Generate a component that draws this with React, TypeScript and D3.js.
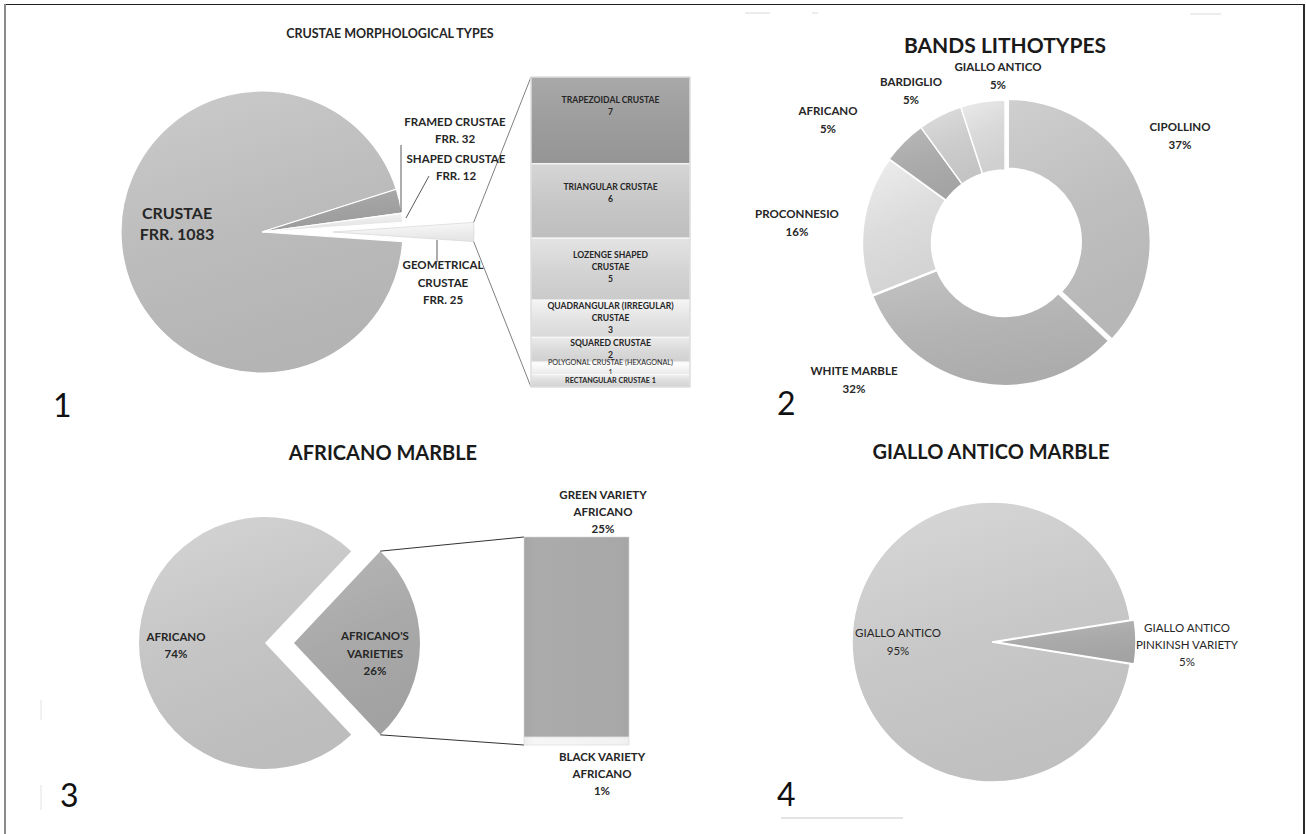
import * as d3 from 'd3';

// ---- data ----
const crustaeTypes = ['CRUSTAE', 'FRAMED CRUSTAE', 'SHAPED CRUSTAE', 'GEOMETRICAL CRUSTAE'];
const crustaeCounts = [1083, 32, 12, 25];

const geometricalTypes = [
  'TRAPEZOIDAL CRUSTAE',
  'TRIANGULAR CRUSTAE',
  'LOZENGE SHAPED\nCRUSTAE',
  'QUADRANGULAR (IRREGULAR)\nCRUSTAE',
  'SQUARED CRUSTAE',
  'POLYGONAL CRUSTAE (HEXAGONAL)',
  'RECTANGULAR CRUSTAE',
];
const geometricalCounts = [7, 6, 5, 3, 2, 1, 1];

const lithotypes = ['CIPOLLINO', 'WHITE MARBLE', 'PROCONNESIO', 'AFRICANO', 'BARDIGLIO', 'GIALLO ANTICO'];
const lithotypeShares = [37, 32, 16, 5, 5, 5];

const africanoParts = ['AFRICANO', "AFRICANO'S\nVARIETIES"];
const africanoShares = [74, 26];
const africanoVarieties = ['GREEN VARIETY\nAFRICANO', 'BLACK VARIETY\nAFRICANO'];
const africanoVarietyShares = [25, 1];

const gialloParts = ['GIALLO ANTICO', 'GIALLO ANTICO\nPINKINSH VARIETY'];
const gialloShares = [95, 5];

// ---- styles ----
const FONT = 'Lato, "Open Sans", "DejaVu Sans", sans-serif';
const INK = '#262626';
const crustaeColors = ['#bcbcbc', '#a2a2a2', '#ebebeb', '#f0f0f0'];
const geometricalColors = ['#9c9c9c', '#c6c6c6', '#d3d3d3', '#e2e2e2', '#d9d9d9', '#f3f3f3', '#dcdcdc'];
const lithotypeColors = ['#bfbfbf', '#b4b4b4', '#dcdcdc', '#ababab', '#cdcdcd', '#d9d9d9'];
const africanoColors = ['#c5c5c5', '#a9a9a9'];
const varietyColors = ['#a8a8a8', '#f2f2f2'];
const gialloColors = ['#c8c8c8', '#aaaaaa'];

type Arc = d3.PieArcDatum<number>;

// pie whose last slice points to the right (pie-of-bar / pie with one pulled slice)
function rightFacingPie(values: number[]) {
  const total = d3.sum(values);
  const last = (values[values.length - 1] / total) * 2 * Math.PI;
  const start = Math.PI / 2 + last / 2;
  return d3.pie<number>().sort(null).value((d) => d).startAngle(start).endAngle(start + 2 * Math.PI)(values);
}

function offsetOf(a: Arc, dist: number) {
  const mid = (a.startAngle + a.endAngle) / 2;
  return [Math.sin(mid) * dist, -Math.cos(mid) * dist];
}

function Shade({ id, color, flat = false }: { id: string; color: string; flat?: boolean }) {
  const c = d3.color(color)!;
  return (
    <linearGradient id={id} x1="0" y1="0" x2={flat ? '0' : '0.3'} y2="1">
      <stop offset="0" stopColor={c.brighter(0.22).formatHex()} />
      <stop offset="0.55" stopColor={color} />
      <stop offset="1" stopColor={c.darker(0.12).formatHex()} />
    </linearGradient>
  );
}

function Lines({
  x,
  y,
  text,
  size,
  weight = 700,
  lh,
  anchor = 'middle',
}: {
  x: number;
  y: number;
  text: string;
  size: number;
  weight?: number;
  lh?: number;
  anchor?: string;
}) {
  const rows = text.split('\n');
  const step = lh ?? size * 1.5;
  return (
    <text x={x} y={y} fontSize={size} fontWeight={weight} textAnchor={anchor} fill={INK} fontFamily={FONT}>
      {rows.map((row, i) => (
        <tspan key={i} x={x} dy={i === 0 ? 0 : step}>
          {row}
        </tspan>
      ))}
    </text>
  );
}

function CrustaePanel() {
  const cx = 262;
  const cy = 232;
  const r = 141;
  const arcs = rightFacingPie(crustaeCounts);
  const arc = d3.arc<Arc>().innerRadius(0).outerRadius(r);
  const geo = arcs[3];
  const [gdx, gdy] = offsetOf(geo, 71);
  const gx = cx + gdx;
  const gy = cy + gdy;
  const topCorner = [gx + r * Math.sin(geo.startAngle), gy - r * Math.cos(geo.startAngle)];
  const bottomCorner = [gx + r * Math.sin(geo.endAngle), gy - r * Math.cos(geo.endAngle)];

  const barX = 531;
  const barW = 159;
  const y = d3.scaleLinear().domain([0, d3.sum(geometricalCounts)]).range([77, 387]);
  const ends = Array.from(d3.cumsum(geometricalCounts));
  const last = geometricalCounts.length - 1;

  return (
    <g>
      <defs>
        {crustaeColors.map((c, i) => (
          <Shade key={i} id={`cr-${i}`} color={c} />
        ))}
        {geometricalColors.map((c, i) => (
          <Shade key={i} id={`gb-${i}`} color={c} flat />
        ))}
      </defs>
      <text x={390} y={38} textAnchor="middle" fontSize={12.5} fontWeight={700} fill={INK} fontFamily={FONT}>
        CRUSTAE MORPHOLOGICAL TYPES
      </text>

      <g transform={`translate(${cx},${cy})`}>
        {arcs.slice(0, 3).map((a, i) => (
          <path key={i} d={arc(a) ?? ''} fill={`url(#cr-${i})`} stroke="#ffffff" strokeWidth={1.2} />
        ))}
      </g>
      <path
        transform={`translate(${gx},${gy})`}
        d={arc(geo) ?? ''}
        fill="url(#cr-3)"
        stroke="#d0d0d0"
        strokeWidth={0.6}
      />

      {/* connectors to the bar */}
      <line x1={topCorner[0]} y1={topCorner[1]} x2={barX} y2={y(0)} stroke="#808080" strokeWidth={1} />
      <line x1={bottomCorner[0]} y1={bottomCorner[1]} x2={barX} y2={y(ends[last])} stroke="#808080" strokeWidth={1} />

      {/* leader lines */}
      <line x1={401} y1={145} x2={401} y2={212} stroke="#5a5a5a" strokeWidth={1} />
      <line x1={429} y1={176} x2={406} y2={218} stroke="#5a5a5a" strokeWidth={1} />
      <line x1={437} y1={240} x2={437} y2={262} stroke="#5a5a5a" strokeWidth={1} />

      {geometricalCounts.map((v, i) => {
        const y0 = y(i === 0 ? 0 : ends[i - 1]);
        const y1 = y(ends[i]);
        const h = y1 - y0;
        const lines = geometricalTypes[i].split('\n');
        const inline = i === last;
        const rows = inline ? [`${lines[0]} ${v}`] : [...lines, String(v)];
        const step = i === last - 1 ? 10 : 12;
        const mid = (y0 + y1) / 2 - Math.max(0, h - 60) / 2;
        const first = mid - ((rows.length - 1) * step) / 2;
        return (
          <g key={i}>
            <rect x={barX} y={y0} width={barW} height={h} fill={`url(#gb-${i})`} stroke="#f7f7f7" strokeWidth={1.2} />
            <text
              x={barX + barW / 2}
              y={first}
              fontSize={i >= last - 1 ? 7.2 : 8.6}
              fontWeight={i === last - 1 ? 400 : 700}
              textAnchor="middle"
              dominantBaseline="middle"
              fill={INK}
              fontFamily={FONT}
            >
              {rows.map((row, k) => (
                <tspan key={k} x={barX + barW / 2} dy={k === 0 ? 0 : step}>
                  {row}
                </tspan>
              ))}
            </text>
          </g>
        );
      })}
      <rect x={barX} y={y(0)} width={barW} height={y(ends[last]) - y(0)} fill="none" stroke="#c8c8c8" strokeWidth={0.8} />

      <Lines x={177} y={219} text={`${crustaeTypes[0]}\nFRR. ${crustaeCounts[0]}`} size={16} lh={21} />
      <Lines x={455} y={126} text={`${crustaeTypes[1]}\nFRR. ${crustaeCounts[1]}`} size={11.5} lh={17} />
      <Lines x={456} y={163} text={`${crustaeTypes[2]}\nFRR. ${crustaeCounts[2]}`} size={11.5} lh={17} />
      <Lines x={443} y={269} text={`GEOMETRICAL\nCRUSTAE\nFRR. ${crustaeCounts[3]}`} size={11.5} lh={17.5} />

      <text x={53} y={417} fontSize={32} fontWeight={400} fill="#111" fontFamily={FONT}>
        1
      </text>
    </g>
  );
}

function LithotypesPanel() {
  const cx = 1005;
  const cy = 243;
  const arcs = d3.pie<number>().sort(null).value((d) => d)(lithotypeShares);
  const arc = d3.arc<Arc>().innerRadius(73).outerRadius(143);
  const labelPos = [
    [1180, 131],
    [854, 375],
    [797, 218],
    [828, 115],
    [911, 86],
    [998, 71],
  ];
  return (
    <g>
      <defs>
        {lithotypeColors.map((c, i) => (
          <Shade key={i} id={`li-${i}`} color={c} />
        ))}
      </defs>
      <text x={1005} y={53} textAnchor="middle" fontSize={21} fontWeight={700} fill="#1a1a1a" fontFamily={FONT}>
        BANDS LITHOTYPES
      </text>
      <g transform={`translate(${cx},${cy})`}>
        {arcs.map((a, i) => {
          const [dx, dy] = i === 0 ? offsetOf(a, 3) : [0, 0];
          return (
            <path
              key={i}
              transform={`translate(${dx},${dy})`}
              d={arc(a) ?? ''}
              fill={`url(#li-${i})`}
              stroke="#ffffff"
              strokeWidth={i <= 2 ? 2.4 : 1.4}
            />
          );
        })}
      </g>
      {lithotypes.map((name, i) => (
        <Lines key={i} x={labelPos[i][0]} y={labelPos[i][1]} text={`${name}\n${lithotypeShares[i]}%`} size={11.5} lh={18} />
      ))}
      <text x={777} y={415} fontSize={32} fontWeight={400} fill="#111" fontFamily={FONT}>
        2
      </text>
      {/* faint scan marks at the top */}
      <line x1={745} y1={13} x2={770} y2={13} stroke="#e6e6e6" strokeWidth={1.5} />
      <line x1={812} y1={13} x2={818} y2={13} stroke="#e6e6e6" strokeWidth={1.5} />
      <line x1={1190} y1={14} x2={1221} y2={14} stroke="#e6e6e6" strokeWidth={1.5} />
    </g>
  );
}

function AfricanoPanel() {
  const cx = 265;
  const cy = 643;
  const r = 126;
  const arcs = rightFacingPie(africanoShares);
  const arc = d3.arc<Arc>().innerRadius(0).outerRadius(r);
  const v = arcs[1];
  const [dx, dy] = offsetOf(v, 29);
  const vx = cx + dx;
  const vy = cy + dy;
  const topCorner = [vx + r * Math.sin(v.startAngle), vy - r * Math.cos(v.startAngle)];
  const bottomCorner = [vx + r * Math.sin(v.endAngle), vy - r * Math.cos(v.endAngle)];

  const barX = 524;
  const barW = 105;
  const y = d3.scaleLinear().domain([0, d3.sum(africanoVarietyShares)]).range([537, 745]);
  const ends = Array.from(d3.cumsum(africanoVarietyShares));

  return (
    <g>
      <defs>
        {africanoColors.map((c, i) => (
          <Shade key={i} id={`af-${i}`} color={c} />
        ))}
        {varietyColors.map((c, i) => (
          <linearGradient key={i} id={`va-${i}`} x1="0" y1="0" x2="1" y2="0">
            <stop offset="0" stopColor={d3.color(c)!.darker(0.05).formatHex()} />
            <stop offset="0.1" stopColor={d3.color(c)!.brighter(0.05).formatHex()} />
            <stop offset="0.9" stopColor={c} />
            <stop offset="1" stopColor={d3.color(c)!.darker(0.05).formatHex()} />
          </linearGradient>
        ))}
      </defs>
      <text x={383} y={460} textAnchor="middle" fontSize={20} fontWeight={700} fill="#1a1a1a" fontFamily={FONT}>
        AFRICANO MARBLE
      </text>
      <path transform={`translate(${cx},${cy})`} d={arc(arcs[0]) ?? ''} fill="url(#af-0)" />
      <path transform={`translate(${vx},${vy})`} d={arc(v) ?? ''} fill="url(#af-1)" />

      <line x1={topCorner[0]} y1={topCorner[1]} x2={barX} y2={y(0)} stroke="#333" strokeWidth={1} />
      <line x1={bottomCorner[0]} y1={bottomCorner[1]} x2={barX} y2={y(ends[ends.length - 1])} stroke="#333" strokeWidth={1} />

      {africanoVarietyShares.map((s, i) => {
        const y0 = y(i === 0 ? 0 : ends[i - 1]);
        const y1 = y(ends[i]);
        return (
          <rect key={i} x={barX} y={y0} width={barW} height={y1 - y0} fill={`url(#va-${i})`} stroke="#d8d8d8" strokeWidth={0.6} />
        );
      })}

      <Lines x={176} y={641} text={`${africanoParts[0]}\n${africanoShares[0]}%`} size={11.5} lh={17} />
      <Lines x={375} y={640} text={`${africanoParts[1]}\n${africanoShares[1]}%`} size={11.5} lh={17.5} />
      <Lines x={603} y={499} text={`${africanoVarieties[0]}\n${africanoVarietyShares[0]}%`} size={11.5} lh={17} />
      <Lines x={602} y={761} text={`${africanoVarieties[1]}\n${africanoVarietyShares[1]}%`} size={11.5} lh={17} />

      <text x={60} y={807} fontSize={32} fontWeight={400} fill="#111" fontFamily={FONT}>
        3
      </text>
      <line x1={41} y1={700} x2={41} y2={720} stroke="#ececec" strokeWidth={1.5} />
      <line x1={41} y1={785} x2={41} y2={810} stroke="#ececec" strokeWidth={1.5} />
    </g>
  );
}

function GialloPanel() {
  const cx = 992;
  const cy = 642;
  const r = 140;
  const arcs = rightFacingPie(gialloShares);
  const arc = d3.arc<Arc>().innerRadius(0).outerRadius(r);
  const [dx, dy] = offsetOf(arcs[1], 4);
  return (
    <g>
      <defs>
        {gialloColors.map((c, i) => (
          <Shade key={i} id={`gi-${i}`} color={c} />
        ))}
      </defs>
      <text x={991} y={459} textAnchor="middle" fontSize={20} fontWeight={700} fill="#1a1a1a" fontFamily={FONT}>
        GIALLO ANTICO MARBLE
      </text>
      <path transform={`translate(${cx},${cy})`} d={arc(arcs[0]) ?? ''} fill="url(#gi-0)" stroke="#ffffff" strokeWidth={1.5} />
      <path transform={`translate(${cx + dx},${cy + dy})`} d={arc(arcs[1]) ?? ''} fill="url(#gi-1)" stroke="#ffffff" strokeWidth={1.5} />

      <Lines x={898} y={637} text={`${gialloParts[0]}\n${gialloShares[0]}%`} size={11.5} weight={400} lh={18} />
      <Lines x={1187} y={632} text={`${gialloParts[1]}\n${gialloShares[1]}%`} size={11.5} weight={400} lh={17} />

      <text x={777} y={806} fontSize={32} fontWeight={400} fill="#111" fontFamily={FONT}>
        4
      </text>
      <line x1={781} y1={818} x2={903} y2={818} stroke="#e4e4e4" strokeWidth={2} />
    </g>
  );
}

export default function App() {
  return (
    <svg
      width={1306}
      height={834}
      viewBox="0 0 1306 834"
      style={{ position: 'absolute', left: 0, top: 0, background: '#ffffff' }}
    >
      <rect x={0} y={0} width={1306} height={834} fill="#ffffff" />
      <CrustaePanel />
      <LithotypesPanel />
      <AfricanoPanel />
      <GialloPanel />
      {/* outer frame */}
      <line x1={5} y1={4.5} x2={1304} y2={4.5} stroke="#1f1f1f" strokeWidth={1.2} />
      <line x1={5} y1={4} x2={5} y2={834} stroke="#8a8a8a" strokeWidth={2} />
      <line x1={1304} y1={4} x2={1304} y2={834} stroke="#2a2a2a" strokeWidth={2} />
    </svg>
  );
}
